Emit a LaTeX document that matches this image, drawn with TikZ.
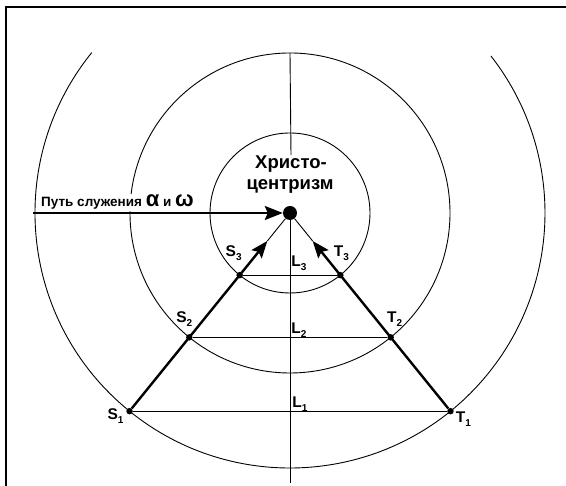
\documentclass[tikz,border=0pt]{standalone}
\usepackage{fontspec}
\setmainfont{Liberation Sans}
\usetikzlibrary{calc,arrows.meta}
\newcommand{\lbltxt}[2]{\textbf{#1}\raisebox{-0.45ex}{\fontsize{10}{11}\selectfont\bfseries #2}}
\begin{document}
\begin{tikzpicture}[x=1pt,y=1pt,
  thinline/.style={line width=0.9pt},
  thickline/.style={line width=2.3pt},
  arrowline/.style={line width=2.4pt,-{Stealth[length=17pt,width=13pt,inset=3pt]}},
  framel/.style={line width=2pt},
  pdot/.style={circle,fill=black,inner sep=0pt,minimum size=6.5pt},
  lbl/.style={inner sep=0pt,font=\fontsize{15.5}{17}\selectfont},
  title/.style={inner sep=1pt,font=\bfseries\fontsize{18.5}{21}\selectfont}]
\useasboundingbox (0,0) rectangle (566,486);
% frame
\coordinate (fl) at (6,0);
\coordinate (ftl) at (6,479.3);
\coordinate (ftr) at (566,479.3);
\draw[framel] (fl) -- (ftl) -- (ftr);
% centre
\coordinate (C) at (290,273);
% circles
\draw[thinline] (C) circle[radius=80pt];
\draw[thinline] (C) circle[radius=160pt];
\draw[thinline] ($(C)+(141:255pt)$) arc[start angle=141,end angle=398,radius=255pt];
% title
\node[title,anchor=base] (xr1) at (291,317) {Христо-};
\node[title,anchor=base] (xr2) at (290,296) {центризм};
% centre dot
\node[circle,fill=black,inner sep=0pt,minimum size=14pt] (dot) at (C) {};
% vertical axis
\coordinate (vtop) at ($(C)+(0,160pt)$);
\coordinate (vbot) at (290,3);
\draw[thinline] (vtop) -- (xr1.north);
\draw[thinline] (dot) -- (vbot);
% points
\node[pdot] (S1) at ($(C)+(231:255pt)$) {};
\node[pdot] (S2) at ($(C)+(231:160pt)$) {};
\node[pdot] (S3) at ($(C)+(231:80pt)$) {};
\node[pdot] (T1) at ($(C)+(309:255pt)$) {};
\node[pdot] (T2) at ($(C)+(309:160pt)$) {};
\node[pdot] (T3) at ($(C)+(309:80pt)$) {};
\coordinate (sTip) at ($(C)+(231:36pt)$);
\coordinate (tTip) at ($(C)+(309:36pt)$);
% chords
\draw[thinline] (S1) -- (T1);
\draw[thinline] (S2) -- (T2);
\draw[thinline] (S3) -- (T3);
% paths to centre
\draw[thinline] (sTip) -- (dot);
\draw[thinline] (tTip) -- (dot);
\draw[arrowline] (S1) -- (sTip);
\draw[arrowline] (T1) -- (tTip);
% horizontal arrow
\coordinate (hstart) at (33,273);
\draw[line width=2.1pt,-{Stealth[length=18pt,width=14pt,inset=3pt]}] (hstart) -- (dot);
\node[anchor=base west,inner sep=1pt,fill=white,font=\bfseries\fontsize{13.5}{15}\selectfont] (path) at (40,279)
  {Путь служения {\fontsize{22}{23}\selectfont α} и {\fontsize{22}{23}\selectfont ω}};
% labels
\node[lbl] (lS1) at ($(S1)+(-14,-5)$) {\lbltxt{S}{1}};
\node[lbl] (lT1) at ($(T1)+(13,-8)$) {\lbltxt{T}{1}};
\node[lbl] (lS2) at ($(S2)+(-5,18)$) {\lbltxt{S}{2}};
\node[lbl] (lT2) at ($(T2)+(4,18)$) {\lbltxt{T}{2}};
\node[lbl] (lS3) at ($(S3)+(-6,22)$) {\lbltxt{S}{3}};
\node[lbl] (lT3) at ($(T3)+(1,22)$) {\lbltxt{T}{3}};
\node[lbl] (lL1) at (300,82) {\lbltxt{L}{1}};
\node[lbl] (lL2) at (299,156) {\lbltxt{L}{2}};
\node[lbl] (lL3) at (299,223) {\lbltxt{L}{3}};
\end{tikzpicture}
\end{document}
